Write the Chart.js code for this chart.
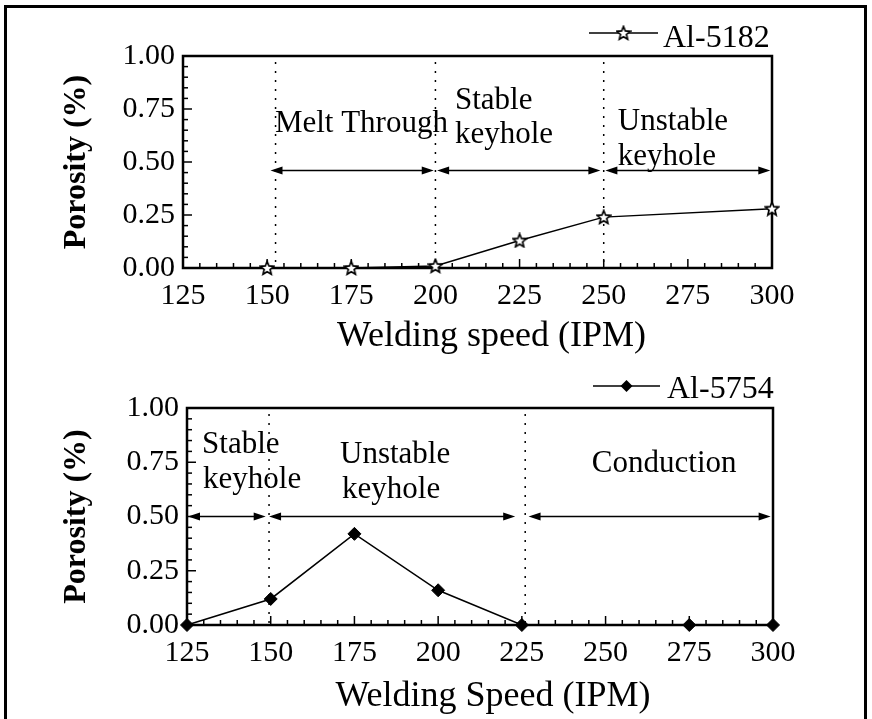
<!DOCTYPE html>
<html>
<head>
<meta charset="utf-8">
<script src="https://cdn.jsdelivr.net/npm/chart.js@4.4.1/dist/chart.umd.min.js"></script>
<style>
  html, body { margin: 0; padding: 0; overflow: hidden; background: #fff; }
  #page { position: relative; width: 872px; height: 719px; }
  #frame { position: absolute; left: 4px; top: 5px; width: 857px; height: 800px; border: 3px solid #000; }
  canvas { position: absolute; left: 0; }
  #topChart { top: 0; }
  #bottomChart { top: 360px; }
</style>
</head>
<body>
<div id="page">
  <div id="frame"></div>
  <canvas id="topChart" width="872" height="360"></canvas>
  <canvas id="bottomChart" width="872" height="359"></canvas>
</div>
<script>
// Al-5182 (upper panel)
const speeds5182 = [150, 175, 200, 225, 250, 300];
const porosity5182 = [0, 0, 0.01, 0.13, 0.24, 0.28];

// Al-5754 (lower panel)
const speeds5754 = [125, 150, 175, 200, 225, 275, 300];
const porosity5754 = [0, 0.12, 0.42, 0.16, 0, 0, 0];

const xTickValues = [125, 150, 175, 200, 225, 250, 275, 300];
const yTickValues = [0, 0.25, 0.5, 0.75, 1];

// regime boundaries, arrows and labels (data units)
const bounds5182 = [152.5, 200, 250];
const arrows5182 = [[151, 199.5], [200.5, 249], [250.5, 299.5]];
const arrowLevel5182 = 0.46;
const labels5182 = [
  ['Melt Through', 152.3, 0.642],
  ['Stable', 205.8, 0.75],
  ['keyhole', 205.8, 0.59],
  ['Unstable', 254.2, 0.651],
  ['keyhole', 254.2, 0.486]
];

const bounds5754 = [149.5, 226];
const arrows5754 = [[125.3, 148.5], [149.5, 223], [227, 299.3]];
const arrowLevel5754 = 0.5;
const labels5754 = [
  ['Stable', 129.5, 0.793],
  ['keyhole', 129.8, 0.631],
  ['Unstable', 170.7, 0.747],
  ['keyhole', 171.3, 0.585],
  ['Conduction', 245.9, 0.705]
];

const SERIF = '"Liberation Serif", "Times New Roman", serif';

// open five-point star marker
function starImage(size) {
  const c = document.createElement('canvas');
  c.width = c.height = size;
  const g = c.getContext('2d');
  const cx = size / 2, cy = size / 2 + 0.5, R = size / 2 - 1, r = R * 0.45;
  g.beginPath();
  for (let i = 0; i < 10; i++) {
    const a = -Math.PI / 2 + i * Math.PI / 5;
    const rad = i % 2 ? r : R;
    g.lineTo(cx + rad * Math.cos(a), cy + rad * Math.sin(a));
  }
  g.closePath();
  g.fillStyle = '#fff';
  g.fill();
  g.lineWidth = 1.7;
  g.strokeStyle = '#000';
  g.stroke();
  return c;
}
const starImg = starImage(16);

function drawDiamond(ctx, x, y, r) {
  ctx.beginPath();
  ctx.moveTo(x, y - r);
  ctx.lineTo(x + r, y);
  ctx.lineTo(x, y + r);
  ctx.lineTo(x - r, y);
  ctx.closePath();
  ctx.fill();
}

function arrowHead(ctx, x, y, dir) {
  ctx.beginPath();
  ctx.moveTo(x, y);
  ctx.lineTo(x - dir * 12, y - 4);
  ctx.lineTo(x - dir * 12, y + 4);
  ctx.closePath();
  ctx.fill();
}

// frame, inward ticks, regime lines, arrows, labels, legend, x title
const decor = {
  id: 'decor',
  beforeDatasetsDraw(chart, args, opts) {
    const { ctx, chartArea: a, scales: { x, y } } = chart;
    ctx.save();
    ctx.strokeStyle = '#000';
    ctx.fillStyle = '#000';

    // dotted regime boundaries
    ctx.lineWidth = 1.5;
    ctx.setLineDash([2, 7]);
    opts.bounds.forEach(v => {
      const px = x.getPixelForValue(v);
      ctx.beginPath();
      ctx.moveTo(px, a.top + 6);
      ctx.lineTo(px, a.bottom);
      ctx.stroke();
    });
    ctx.setLineDash([]);

    // inward ticks
    ctx.lineWidth = 1.5;
    for (let v = x.min; v <= x.max + 0.01; v += 5) {
      const px = x.getPixelForValue(v);
      const len = (v - x.min) % 25 === 0 ? 9 : 5;
      ctx.beginPath();
      ctx.moveTo(px, a.bottom);
      ctx.lineTo(px, a.bottom - len);
      ctx.stroke();
    }
    for (let i = 0; i <= 20; i++) {
      const py = y.getPixelForValue(i * 0.05);
      const len = i % 5 === 0 ? 9 : 5;
      ctx.beginPath();
      ctx.moveTo(a.left, py);
      ctx.lineTo(a.left + len, py);
      ctx.stroke();
    }

    // plot box
    ctx.lineWidth = 2.5;
    ctx.strokeRect(a.left, a.top, a.width, a.height);

    // double-headed arrows
    ctx.lineWidth = 1.5;
    const ay = y.getPixelForValue(opts.arrowLevel);
    opts.arrows.forEach(([v1, v2]) => {
      const p1 = x.getPixelForValue(v1), p2 = x.getPixelForValue(v2);
      ctx.beginPath();
      ctx.moveTo(p1 + 4, ay);
      ctx.lineTo(p2 - 4, ay);
      ctx.stroke();
      arrowHead(ctx, p1, ay, -1);
      arrowHead(ctx, p2, ay, 1);
    });

    // regime labels
    ctx.font = '31px ' + SERIF;
    ctx.textAlign = 'left';
    ctx.textBaseline = 'alphabetic';
    opts.labels.forEach(([t, vx, vy]) => {
      ctx.fillText(t, x.getPixelForValue(vx), y.getPixelForValue(vy));
    });

    // legend
    const lg = opts.legend;
    ctx.lineWidth = 1.5;
    ctx.beginPath();
    ctx.moveTo(lg.x0, lg.y);
    ctx.lineTo(lg.x1, lg.y);
    ctx.stroke();
    const mx = (lg.x0 + lg.x1) / 2;
    if (lg.marker === 'star') {
      ctx.drawImage(starImg, mx - starImg.width / 2, lg.y - starImg.height / 2);
    } else {
      drawDiamond(ctx, mx, lg.y, 6);
    }
    ctx.font = '32px ' + SERIF;
    ctx.fillText(lg.text, lg.textX, lg.baseline);

    // x axis title (sits a little right of the plot centre in the source)
    ctx.font = '36px ' + SERIF;
    ctx.textAlign = 'center';
    ctx.textBaseline = 'middle';
    ctx.fillText(opts.xTitle.text, (a.left + a.right) / 2 + opts.xTitle.shift, opts.xTitle.y);
    ctx.restore();
  }
};

function makeChart(id, opt) {
  return new Chart(document.getElementById(id), {
    type: 'line',
    data: {
      datasets: [{
        label: opt.name,
        data: opt.xs.map((s, i) => ({ x: s, y: opt.ys[i] })),
        borderColor: '#000',
        borderWidth: 1.5,
        backgroundColor: '#000',
        pointStyle: opt.pointStyle,
        pointRadius: opt.pointRadius,
        pointBorderWidth: 1,
        pointBorderColor: '#000',
        pointBackgroundColor: '#000',
        tension: 0,
        clip: false
      }]
    },
    options: {
      responsive: false,
      devicePixelRatio: 1,
      animation: false,
      events: [],
      layout: { padding: opt.padding },
      scales: {
        x: {
          type: 'linear',
          min: 125,
          max: 300,
          afterBuildTicks: s => { s.ticks = xTickValues.map(v => ({ value: v })); },
          afterFit: s => { s.height = opt.xHeight; },
          grid: { display: false, drawTicks: false },
          border: { display: false },
          ticks: { color: '#000', font: { family: SERIF, size: 30 }, padding: 10, maxRotation: 0, autoSkip: false },
          title: { display: false }
        },
        y: {
          min: 0,
          max: 1,
          afterBuildTicks: s => { s.ticks = yTickValues.map(v => ({ value: v })); },
          afterFit: s => { s.width = opt.yWidth; },
          grid: { display: false, drawTicks: false },
          border: { display: false },
          ticks: { color: '#000', font: { family: SERIF, size: 30 }, padding: 8, callback: v => v.toFixed(2) },
          title: {
            display: true,
            text: 'Porosity (%)',
            color: '#000',
            font: { family: SERIF, size: 32, weight: 'bold' },
            padding: { top: 0, bottom: 0 }
          }
        }
      },
      plugins: {
        legend: { display: false },
        tooltip: { enabled: false },
        decor: {
          bounds: opt.bounds,
          arrows: opt.arrows,
          arrowLevel: opt.arrowLevel,
          labels: opt.labels,
          legend: opt.legend,
          xTitle: opt.xTitle
        }
      }
    },
    plugins: [decor]
  });
}

makeChart('topChart', {
  name: 'Al-5182',
  xs: speeds5182,
  ys: porosity5182,
  pointStyle: starImg,
  pointRadius: 7,
  padding: { left: 58, right: 100, top: 56, bottom: 0 },
  yWidth: 125,
  xHeight: 92,
  xTitle: { text: 'Welding speed (IPM)', shift: 14, y: 337 },
  bounds: bounds5182,
  arrows: arrows5182,
  arrowLevel: arrowLevel5182,
  labels: labels5182,
  legend: { text: 'Al-5182', marker: 'star', x0: 589, x1: 658, y: 33, textX: 663, baseline: 47 }
});

makeChart('bottomChart', {
  name: 'Al-5754',
  xs: speeds5754,
  ys: porosity5754,
  pointStyle: 'rectRot',
  pointRadius: 6.5,
  padding: { left: 58, right: 99, top: 48, bottom: 0 },
  yWidth: 129,
  xHeight: 94,
  xTitle: { text: 'Welding Speed (IPM)', shift: 13, y: 337 },
  bounds: bounds5754,
  arrows: arrows5754,
  arrowLevel: arrowLevel5754,
  labels: labels5754,
  legend: { text: 'Al-5754', marker: 'diamond', x0: 593, x1: 660, y: 26, textX: 667, baseline: 38 }
});
</script>
</body>
</html>
